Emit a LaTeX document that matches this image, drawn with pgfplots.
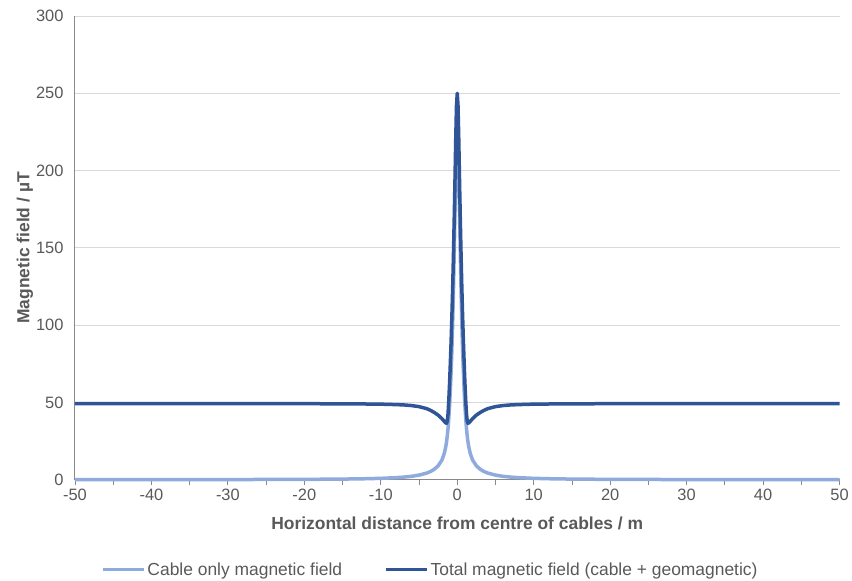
\documentclass[border=0pt]{standalone}
\usepackage{pgfplots}
\pgfplotsset{compat=1.18}
\usepackage{fontspec}
\setmainfont{Liberation Sans}
\definecolor{cablec}{HTML}{8FAADC}
\definecolor{totalc}{HTML}{2F5597}
\definecolor{txtc}{HTML}{595959}
\definecolor{gridc}{HTML}{D9D9D9}
\definecolor{axc}{HTML}{898989}
\begin{document}
\begin{tikzpicture}
\begin{axis}[
    scale only axis,
    width=765bp, height=464bp,
    xmin=-50, xmax=50, ymin=0, ymax=300,
    clip=false,
    axis lines*=left,
    axis line style={axc, line width=1bp},
    xtick distance=10, ytick distance=50,
    minor x tick num=1,
    tick align=outside,
    x tick style={axc, line width=0.8bp},
    major tick length=5bp, minor tick length=5bp,
    y tick style={draw=none},
    ymajorgrids,
    grid style={gridc, line width=0.8bp},
    /pgf/number format/assume math mode=true,
    tick label style={font=\fontsize{16.5}{19}\selectfont, text=txtc},
    xticklabel style={yshift=-1bp},
    yticklabel style={xshift=-3bp},
    xlabel={Horizontal distance from centre of cables / m},
    ylabel={Magnetic field / µT},
    label style={font=\fontsize{17.5}{20}\selectfont\bfseries, text=txtc},
    xlabel style={at={(axis description cs:0.5,0)}, anchor=center, yshift=-44bp},
    ylabel style={at={(axis description cs:0,0.5)}, anchor=center, yshift=50bp},
    legend style={at={(axis description cs:0.5,0)}, anchor=center, xshift=-27bp, yshift=-90bp,
        draw=none, fill=none, font=\fontsize{17.5}{20}\selectfont, text=txtc,
        /tikz/every even column/.append style={column sep=40bp}},
    legend columns=2,
    legend cell align=left,
    legend image code/.code={\draw[#1, line width=3.5bp] (0bp,0bp) -- (41bp,0bp);},
    every axis plot/.append style={line width=3.5bp, line join=round},
]
\addplot[cablec] coordinates {
    (-50,0.04) (-30,0.11) (-20,0.25) (-15,0.42) (-12,0.65) (-10,0.9)
    (-8,1.35) (-7,1.7) (-6,2.2) (-5,3.0) (-4,4.3) (-3.5,5.3) (-3,6.8)
    (-2.5,9) (-2,12.8) (-1.7,17) (-1.5,21.5) (-1.4,24.5) (-1.3,28.5)
    (-1.2,33.5) (-1.1,40) (-1,48) (-0.9,58) (-0.8,70) (-0.7,84) (-0.6,101)
    (-0.5,122) (-0.4,146) (-0.3,172) (-0.2,198) (-0.1,218) (0,225)
    (0.1,218) (0.2,198) (0.3,172) (0.4,146) (0.5,122) (0.6,101) (0.7,84)
    (0.8,70) (0.9,58) (1,48) (1.1,40) (1.2,33.5) (1.3,28.5) (1.4,24.5)
    (1.5,21.5) (1.7,17) (2,12.8) (2.5,9) (3,6.8) (3.5,5.3) (4,4.3) (5,3.0)
    (6,2.2) (7,1.7) (8,1.35) (10,0.9) (12,0.65) (15,0.42) (20,0.25)
    (30,0.11) (50,0.04)
};
\addlegendentry{Cable only magnetic field}
\addplot[totalc] coordinates {
    (-50,49.2) (-30,49.2) (-20,49.2) (-15,49.1) (-12,49.0) (-10,48.9)
    (-8,48.6) (-7,48.4) (-6,48.0) (-5,47.3) (-4,46.0) (-3.5,44.9) (-3,43.5)
    (-2.5,41.8) (-2,39.5) (-1.7,37.8) (-1.5,36.8) (-1.4,36.5) (-1.3,38)
    (-1.2,43) (-1.1,52) (-1,63) (-0.9,76) (-0.8,90) (-0.7,106) (-0.6,124)
    (-0.5,145) (-0.4,168) (-0.3,193) (-0.2,220) (-0.1,242) (0,250)
    (0.1,242) (0.2,220) (0.3,193) (0.4,168) (0.5,145) (0.6,124) (0.7,106)
    (0.8,90) (0.9,76) (1,63) (1.1,52) (1.2,43) (1.3,38) (1.4,36.5)
    (1.5,36.8) (1.7,37.8) (2,39.5) (2.5,41.8) (3,43.5) (3.5,44.9) (4,46.0)
    (5,47.3) (6,48.0) (7,48.4) (8,48.6) (10,48.9) (12,49.0) (15,49.1)
    (20,49.2) (30,49.2) (50,49.2)
};
\addlegendentry{Total magnetic field (cable + geomagnetic)}
\end{axis}
\path ([shift={(-75bp,-101bp)}]current axis.south west) rectangle ([shift={(12bp,16bp)}]current axis.north east);
\end{tikzpicture}
\end{document}
